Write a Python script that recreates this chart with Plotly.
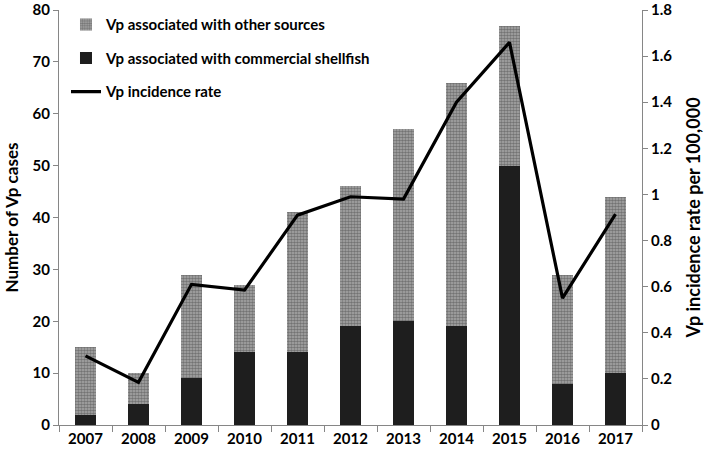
import plotly.graph_objects as go

years = ["2007", "2008", "2009", "2010", "2011", "2012", "2013", "2014", "2015", "2016", "2017"]
shellfish = [2, 4, 9, 14, 14, 19, 20, 19, 50, 8, 10]
other = [13, 6, 20, 13, 27, 27, 37, 47, 27, 21, 34]
rate = [0.30, 0.185, 0.61, 0.585, 0.91, 0.99, 0.98, 1.40, 1.66, 0.55, 0.915]
left_ticks = [0, 10, 20, 30, 40, 50, 60, 70, 80]
right_ticks = [0, 0.2, 0.4, 0.6, 0.8, 1, 1.2, 1.4, 1.6, 1.8]
right_labels = ["0", "0.2", "0.4", "0.6", "0.8", "1", "1.2", "1.4", "1.6", "1.8"]

FONT = "Lato, Open Sans, sans-serif"
AX = "#868686"

fig = go.Figure()
fig.add_trace(go.Bar(
    x=years, y=shellfish, name="Vp associated with commercial shellfish",
    marker=dict(color="#1e1e1e", line=dict(width=0)),
    legendrank=2, legendgroup="b", yaxis="y",
))
fig.add_trace(go.Bar(
    x=years, y=other, name="Vp associated with other sources",
    marker=dict(color="#7c7c7c", line=dict(width=0),
                pattern=dict(shape=".", size=3, solidity=0.6,
                             fgcolor="#3c3c3c", bgcolor="#ababab")),
    legendrank=1, legendgroup="a", yaxis="y",
))
fig.add_trace(go.Scatter(
    x=years, y=rate, name="Vp incidence rate", mode="lines",
    line=dict(color="black", width=3.2),
    legendrank=3, legendgroup="c", yaxis="y2",
))

fig.update_layout(
    width=709, height=452,
    margin=dict(l=59, r=67, t=10, b=27, autoexpand=False),
    paper_bgcolor="white", plot_bgcolor="white",
    barmode="stack", bargap=0.6,
    font=dict(family=FONT, size=15, color="black", weight=700),
    showlegend=True,
    legend=dict(x=0.012, y=1.004, xanchor="left", yanchor="top",
                traceorder="grouped", tracegroupgap=11,
                font=dict(family=FONT, size=15, color="black", weight=700),
                bgcolor="rgba(0,0,0,0)", itemwidth=30),
    xaxis=dict(type="category", range=[-0.5, 10.5], showline=True, linecolor=AX,
               linewidth=1, ticks="outside", tickson="boundaries", ticklen=6,
               tickcolor=AX, showgrid=False, tickfont=dict(size=15), automargin=False),
    yaxis=dict(range=[0, 80], tickmode="array", tickvals=left_ticks, showline=True,
               linecolor=AX, linewidth=1, automargin=False, ticklabeloverflow="allow",
               ticks="outside", ticklen=5, tickcolor=AX, showgrid=False, zeroline=False,
               title=dict(text="Number of Vp cases",
                          font=dict(family=FONT, size=17, color="black", weight=700), standoff=9),
               tickfont=dict(size=15)),
    yaxis2=dict(range=[0, 1.8], tickmode="array", tickvals=right_ticks, ticktext=right_labels,
                overlaying="y", side="right", automargin=False, ticklabeloverflow="allow",
                showline=True, linecolor=AX, linewidth=1, ticks="outside", ticklen=5,
                tickcolor=AX, showgrid=False, zeroline=False,
                title=dict(text="Vp incidence rate per 100,000",
                           font=dict(family=FONT, size=18, color="black", weight=700), standoff=16),
                tickfont=dict(size=15)),
)

fig.write_html("out.html", post_script="document.body.style.margin='0';",
               config={"displayModeBar": False})
